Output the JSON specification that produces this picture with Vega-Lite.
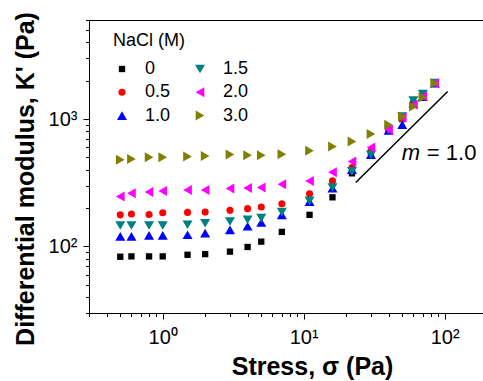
{
  "$schema": "https://vega.github.io/schema/vega-lite/v6.json",
  "width": 394,
  "height": 293,
  "autosize": "none",
  "padding": {"left": 89, "top": 20, "right": 0, "bottom": 68},
  "background": "white",
  "config": {"view": {"stroke": null}, "font": "Liberation Sans"},
  "encoding": {
    "y": {
      "field": "K",
      "type": "quantitative",
      "scale": {"type": "log", "domain": [30, 6000], "nice": false},
      "axis": {
        "values": [30, 40, 50, 60, 70, 80, 90, 100, 200, 300, 400, 500, 600, 700, 800, 900, 1000, 2000, 3000, 4000, 5000, 6000],
        "labelExpr": "datum.value == 100 ? '10²' : datum.value == 1000 ? '10³' : ''",
        "labelFontSize": 20,
        "labelColor": "black",
        "labelPadding": 6,
        "labelOverlap": false,
        "labelFlush": false,
        "tickSize": {"condition": {"test": "datum.value == 100 || datum.value == 1000", "value": 6}, "value": 3.5},
        "tickColor": "black",
        "domainColor": "black",
        "grid": false,
        "title": "Differential modulus, K' (Pa)",
        "titleFontSize": 25,
        "titleFontWeight": "bold",
        "titleColor": "black",
        "titleX": -56,
        "titleY": 158.5,
        "titleAngle": -90,
        "titleAlign": "center",
        "titleBaseline": "alphabetic"
      }
    }
  },
  "layer": [
    {
      "data": {
        "values": [
          {"s": 0.5, "K": 83, "c": "0"}, {"s": 0.6, "K": 83.5, "c": "0"}, {"s": 0.8, "K": 83.5, "c": "0"}, {"s": 1, "K": 83.5, "c": "0"}, {"s": 1.5, "K": 86, "c": "0"}, {"s": 2, "K": 87, "c": "0"}, {"s": 3, "K": 91, "c": "0"}, {"s": 4, "K": 99, "c": "0"}, {"s": 5, "K": 109, "c": "0"}, {"s": 7, "K": 130, "c": "0"}, {"s": 11, "K": 177, "c": "0"}, {"s": 16, "K": 243, "c": "0"}, {"s": 22, "K": 375, "c": "0"}, {"s": 30, "K": 520, "c": "0"}, {"s": 40, "K": 810, "c": "0"}, {"s": 50, "K": 1000, "c": "0"}, {"s": 60, "K": 1330, "c": "0"}, {"s": 70, "K": 1500, "c": "0"}, {"s": 85, "K": 1900, "c": "0"},
          {"s": 0.5, "K": 177, "c": "0.5"}, {"s": 0.6, "K": 180, "c": "0.5"}, {"s": 0.8, "K": 178, "c": "0.5"}, {"s": 1, "K": 184, "c": "0.5"}, {"s": 1.5, "K": 185, "c": "0.5"}, {"s": 2, "K": 186, "c": "0.5"}, {"s": 3, "K": 192, "c": "0.5"}, {"s": 4, "K": 198, "c": "0.5"}, {"s": 5, "K": 204, "c": "0.5"}, {"s": 7, "K": 216, "c": "0.5"}, {"s": 11, "K": 259, "c": "0.5"}, {"s": 16, "K": 327, "c": "0.5"}, {"s": 22, "K": 417, "c": "0.5"}, {"s": 30, "K": 560, "c": "0.5"}, {"s": 40, "K": 820, "c": "0.5"}, {"s": 50, "K": 1000, "c": "0.5"}, {"s": 60, "K": 1320, "c": "0.5"}, {"s": 70, "K": 1500, "c": "0.5"}, {"s": 85, "K": 1900, "c": "0.5"},
          {"s": 0.5, "K": 120, "c": "1.0"}, {"s": 0.6, "K": 120, "c": "1.0"}, {"s": 0.8, "K": 122, "c": "1.0"}, {"s": 1, "K": 122, "c": "1.0"}, {"s": 1.5, "K": 123.5, "c": "1.0"}, {"s": 2, "K": 127, "c": "1.0"}, {"s": 3, "K": 135, "c": "1.0"}, {"s": 4, "K": 144, "c": "1.0"}, {"s": 5, "K": 154, "c": "1.0"}, {"s": 7, "K": 177, "c": "1.0"}, {"s": 11, "K": 225, "c": "1.0"}, {"s": 16, "K": 287, "c": "1.0"}, {"s": 22, "K": 400, "c": "1.0"}, {"s": 30, "K": 525, "c": "1.0"}, {"s": 40, "K": 814, "c": "1.0"}, {"s": 50, "K": 902, "c": "1.0"}, {"s": 60, "K": 1334, "c": "1.0"}, {"s": 70, "K": 1503, "c": "1.0"}, {"s": 85, "K": 1914, "c": "1.0"},
          {"s": 0.5, "K": 146, "c": "1.5"}, {"s": 0.6, "K": 146, "c": "1.5"}, {"s": 0.8, "K": 146, "c": "1.5"}, {"s": 1, "K": 146, "c": "1.5"}, {"s": 1.5, "K": 148, "c": "1.5"}, {"s": 2, "K": 152, "c": "1.5"}, {"s": 3, "K": 157, "c": "1.5"}, {"s": 4, "K": 162, "c": "1.5"}, {"s": 5, "K": 167, "c": "1.5"}, {"s": 7, "K": 186, "c": "1.5"}, {"s": 11, "K": 228, "c": "1.5"}, {"s": 16, "K": 290, "c": "1.5"}, {"s": 22, "K": 388, "c": "1.5"}, {"s": 30, "K": 525, "c": "1.5"}, {"s": 40, "K": 824, "c": "1.5"}, {"s": 50, "K": 1048, "c": "1.5"}, {"s": 60, "K": 1400, "c": "1.5"}, {"s": 70, "K": 1570, "c": "1.5"}, {"s": 85, "K": 1914, "c": "1.5"},
          {"s": 0.5, "K": 247, "c": "2.0"}, {"s": 0.6, "K": 262, "c": "2.0"}, {"s": 0.8, "K": 267, "c": "2.0"}, {"s": 1, "K": 273, "c": "2.0"}, {"s": 1.5, "K": 278, "c": "2.0"}, {"s": 2, "K": 278, "c": "2.0"}, {"s": 3, "K": 285, "c": "2.0"}, {"s": 4, "K": 287, "c": "2.0"}, {"s": 5, "K": 290, "c": "2.0"}, {"s": 7, "K": 308, "c": "2.0"}, {"s": 11, "K": 327, "c": "2.0"}, {"s": 16, "K": 383, "c": "2.0"}, {"s": 22, "K": 464, "c": "2.0"}, {"s": 30, "K": 598, "c": "2.0"}, {"s": 40, "K": 824, "c": "2.0"}, {"s": 50, "K": 1036, "c": "2.0"}, {"s": 60, "K": 1295, "c": "2.0"}, {"s": 70, "K": 1503, "c": "2.0"}, {"s": 85, "K": 1914, "c": "2.0"},
          {"s": 0.5, "K": 479, "c": "3.0"}, {"s": 0.6, "K": 485, "c": "3.0"}, {"s": 0.8, "K": 502, "c": "3.0"}, {"s": 1, "K": 502, "c": "3.0"}, {"s": 1.5, "K": 508, "c": "3.0"}, {"s": 2, "K": 512, "c": "3.0"}, {"s": 3, "K": 527, "c": "3.0"}, {"s": 4, "K": 521, "c": "3.0"}, {"s": 5, "K": 521, "c": "3.0"}, {"s": 7, "K": 530, "c": "3.0"}, {"s": 11, "K": 564, "c": "3.0"}, {"s": 16, "K": 610, "c": "3.0"}, {"s": 22, "K": 667, "c": "3.0"}, {"s": 30, "K": 762, "c": "3.0"}, {"s": 40, "K": 902, "c": "3.0"}, {"s": 50, "K": 1048, "c": "3.0"}, {"s": 60, "K": 1255, "c": "3.0"}, {"s": 70, "K": 1479, "c": "3.0"}, {"s": 85, "K": 1914, "c": "3.0"}
        ]
      },
      "mark": {"type": "point", "filled": true, "opacity": 1},
      "encoding": {
        "x": {
          "field": "s",
          "type": "quantitative",
          "scale": {"type": "log", "domain": [0.3, 187], "nice": false},
          "axis": {
            "orient": "bottom",
            "values": [0.3, 0.4, 0.5, 0.6, 0.7, 0.8, 0.9, 1, 2, 3, 4, 5, 6, 7, 8, 9, 10, 20, 30, 40, 50, 60, 70, 80, 90, 100],
            "labelExpr": "datum.value == 1 ? '10⁰' : datum.value == 10 ? '10¹' : datum.value == 100 ? '10²' : ''",
            "labelFontSize": 20,
            "labelColor": "black",
            "labelPadding": 8,
            "labelOverlap": false,
            "labelFlush": false,
            "tickSize": {"condition": {"test": "datum.value == 1 || datum.value == 10 || datum.value == 100", "value": 6}, "value": 3.5},
            "tickColor": "black",
            "domainColor": "black",
            "grid": false,
            "title": "Stress, σ (Pa)",
            "titleFontSize": 25,
            "titleFontWeight": "bold",
            "titleColor": "black",
            "titleX": 223,
            "titleY": 61,
            "titleBaseline": "alphabetic"
          }
        },
        "size": {
          "field": "c",
          "type": "nominal",
          "scale": {"type": "ordinal", "domain": ["0", "0.5", "1.0", "1.5", "2.0", "3.0"], "range": [40, 50, 100, 100, 100, 100]},
          "legend": null
        },
        "color": {
          "field": "c",
          "type": "nominal",
          "scale": {"domain": ["0", "0.5", "1.0", "1.5", "2.0", "3.0"], "range": ["#000000", "#FF0000", "#0000FF", "#008080", "#FF00FF", "#808000"]},
          "legend": {"title": "NaCl (M)", "orient": "none", "legendX": 24, "legendY": 12, "columns": 2, "titleFontWeight": "normal", "titleFontSize": 18, "titleColor": "black", "labelFontSize": 18, "labelColor": "black", "symbolSize": 36, "labelOffset": 14, "columnPadding": 20, "rowPadding": 5.3, "titlePadding": 10, "symbolStrokeWidth": 0, "symbolOpacity": 1,
            "encode": {"symbols": {"update": {"size": {"signal": "datum.value == '0' ? 25 : datum.value == '0.5' ? 30 : 55"}}}}}
        },
        "shape": {
          "field": "c",
          "type": "nominal",
          "scale": {"domain": ["0", "0.5", "1.0", "1.5", "2.0", "3.0"], "range": ["square", "circle", "triangle-up", "triangle-down", "triangle-left", "triangle-right"]},
          "legend": {"title": "NaCl (M)", "orient": "none", "legendX": 24, "legendY": 12, "columns": 2, "titleFontWeight": "normal", "titleFontSize": 18, "titleColor": "black", "labelFontSize": 18, "labelColor": "black", "symbolSize": 36, "labelOffset": 14, "columnPadding": 20, "rowPadding": 5.3, "titlePadding": 10, "symbolStrokeWidth": 0, "symbolOpacity": 1,
            "encode": {"symbols": {"update": {"size": {"signal": "datum.value == '0' ? 25 : datum.value == '0.5' ? 30 : 55"}}}}}
        }
      }
    },
    {
      "data": {"values": [{"s": 23.4, "K": 318}, {"s": 105, "K": 1648}]},
      "mark": {"type": "line", "color": "black", "strokeWidth": 1.5},
      "encoding": {
        "x": {"field": "s", "type": "quantitative", "scale": {"type": "log", "domain": [0.3, 187], "nice": false}, "axis": {"orient": "top", "labels": false, "ticks": false, "title": null, "grid": false, "domainColor": "black"}}
      }
    },
    {
      "data": {"values": [{"s": 49.7, "K": 479, "t": "m"}]},
      "mark": {"type": "text", "align": "left", "baseline": "alphabetic", "fontSize": 22, "fontStyle": "italic", "color": "black"},
      "encoding": {
        "x": {"field": "s", "type": "quantitative", "scale": {"type": "log", "domain": [0.3, 187], "nice": false}, "axis": null},
        "text": {"field": "t"}
      }
    },
    {
      "data": {"values": [{"s": 49.7, "K": 479, "t": "= 1.0"}]},
      "mark": {"type": "text", "align": "left", "baseline": "alphabetic", "fontSize": 22, "dx": 25, "color": "black"},
      "encoding": {
        "x": {"field": "s", "type": "quantitative", "scale": {"type": "log", "domain": [0.3, 187], "nice": false}, "axis": null},
        "text": {"field": "t"}
      }
    }
  ],
  "resolve": {"axis": {"x": "independent"}}
}
